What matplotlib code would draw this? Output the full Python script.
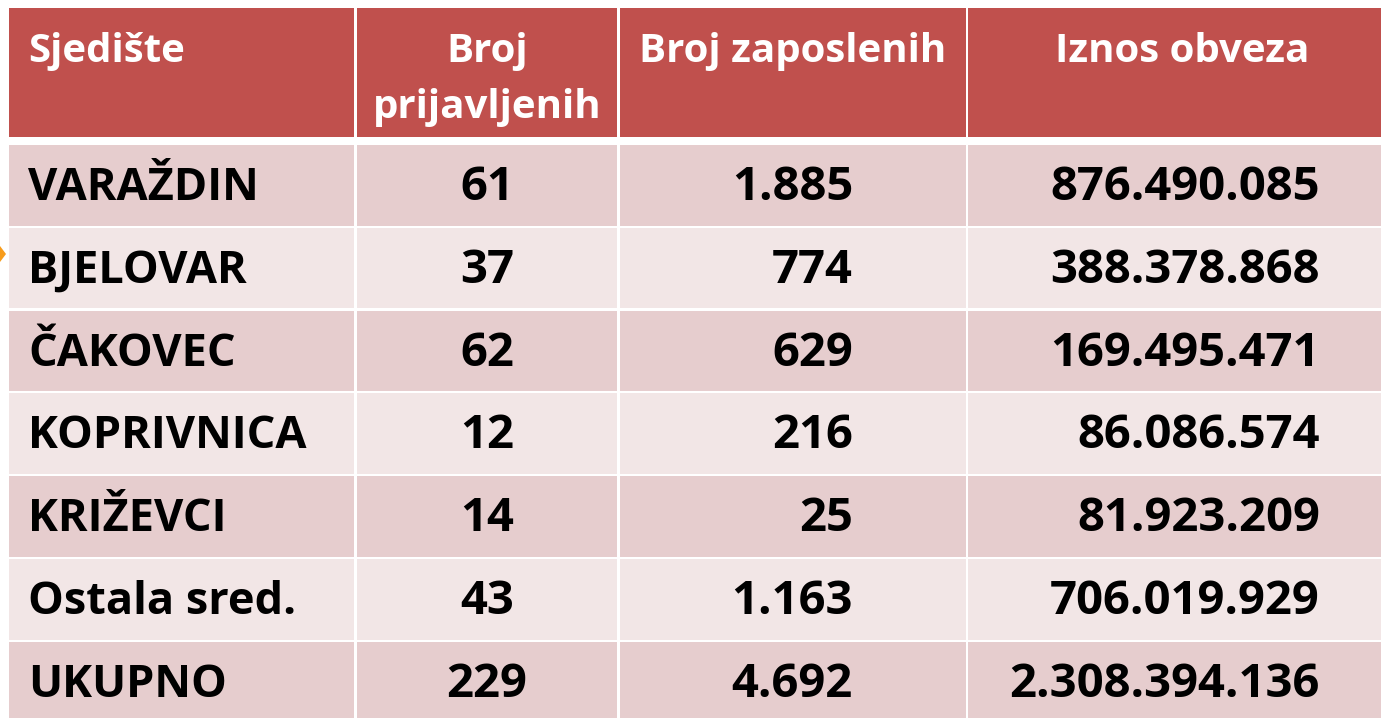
import matplotlib
matplotlib.use("Agg")
import matplotlib.pyplot as plt
from matplotlib.patches import Rectangle, Polygon

headers = ["Sjedište", "Broj", "prijavljenih", "Broj zaposlenih", "Iznos obveza"]
sjediste = ["VARAŽDIN", "BJELOVAR", "ČAKOVEC", "KOPRIVNICA", "KRIŽEVCI", "Ostala sred.", "UKUPNO"]
broj_prijavljenih = ["61", "37", "62", "12", "14", "43", "229"]
broj_zaposlenih = ["1.885", "774", "629", "216", "25", "1.163", "4.692"]
iznos_obveza = ["876.490.085", "388.378.868", "169.495.471", "86.086.574", "81.923.209", "706.019.929", "2.308.394.136"]

W, H = 1381, 718
fig = plt.figure(figsize=(W / 100, H / 100), dpi=100)
ax = fig.add_axes([0, 0, 1, 1])
ax.set_xlim(0, W)
ax.set_ylim(H, 0)
ax.axis("off")

FONT = "Open Sans"
HEAD = "#C0504D"
DARK = "#E6CDCE"
LIGHT = "#F2E6E6"

col_l = [9, 357, 620, 968]
col_r = [354, 617, 966, 1390]
head_top, head_bot = 8, 137
row0 = 145
pitch = 82.8
cell_h = 80.5

# header
for l, r in zip(col_l, col_r):
    ax.add_patch(Rectangle((l, head_top), r - l, head_bot - head_top, color=HEAD, lw=0))

hfs = 29
hkw = dict(fontsize=hfs, fontweight="bold", color="white", family=FONT, va="baseline")
ax.text(28, 62, headers[0], ha="left", **hkw)
ax.text(487, 62, headers[1], ha="center", **hkw)
ax.text(487, 118, headers[2], ha="center", **hkw)
ax.text(793, 62, headers[3], ha="center", **hkw)
ax.text(1182, 62, headers[4], ha="center", **hkw)

kw_name = dict(fontsize=32.5, fontweight="bold", color="black", family=FONT, va="baseline")
kw_num = dict(fontsize=34, fontweight="bold", color="black", family=FONT, va="baseline")
for i in range(len(sjediste)):
    top = row0 + i * pitch
    color = DARK if i % 2 == 0 else LIGHT
    for l, r in zip(col_l, col_r):
        ax.add_patch(Rectangle((l, top), r - l, cell_h, color=color, lw=0))
    by = top + 55
    ax.text(28, by, sjediste[i], ha="left", **kw_name)
    ax.text(487, by, broj_prijavljenih[i], ha="center", **kw_num)
    ax.text(853, by, broj_zaposlenih[i], ha="right", **kw_num)
    ax.text(1320, by, iznos_obveza[i], ha="right", **kw_num)

# small orange arrow at the left edge
ax.add_patch(Polygon([[0, 246], [6, 254], [0, 262]], closed=True, color="#F79C1C", lw=0))

fig.savefig("out.png", dpi=100)
